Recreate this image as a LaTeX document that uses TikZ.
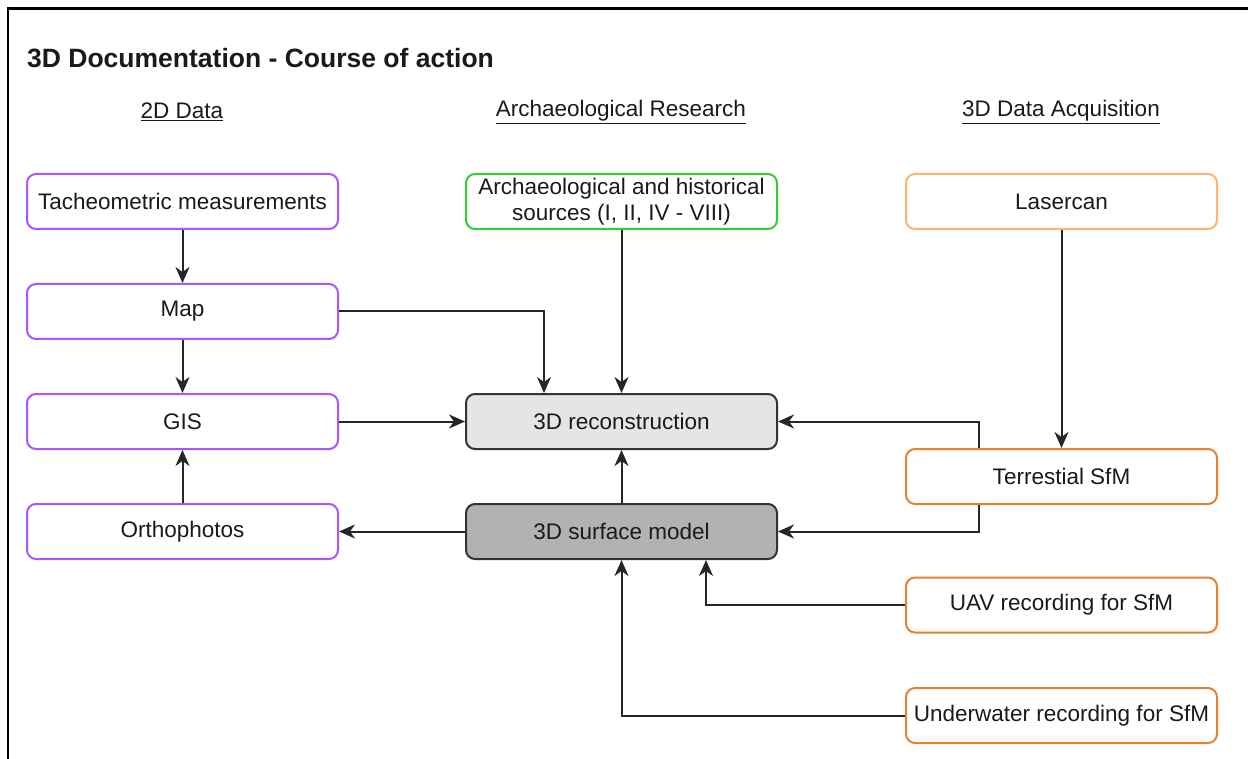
\documentclass[tikz,border=0pt]{standalone}
\usepackage{fontspec}
\setmainfont{Liberation Sans}
\usetikzlibrary{arrows.meta}
\definecolor{purp}{HTML}{AA55FF}
\definecolor{grn}{HTML}{33CC33}
\definecolor{lorange}{HTML}{FFB570}
\definecolor{orng}{HTML}{E5822F}
\definecolor{txt}{HTML}{1A1A1A}
\begin{document}
\begin{tikzpicture}[x=1pt,y=-1pt,
  box/.style={draw,line width=2pt,rounded corners=9pt,minimum width=311pt,minimum height=55pt,inner sep=0pt,align=center,text=txt,font=\fontsize{22.5}{27}\selectfont},
  pbox/.style={box,draw=purp,fill=white},
  gbox/.style={box,draw=grn,fill=white},
  lobox/.style={box,draw=lorange,fill=white},
  obox/.style={box,draw=orng,fill=white},
  cbox/.style={box,draw=black!80},
  hdr/.style={text=txt,font=\fontsize{22.5}{27}\selectfont,inner sep=0pt},
  conn/.style={draw=black!85,line width=2pt,-{Stealth[length=16pt,width=14pt,inset=5pt]}}]
\useasboundingbox (0,0) rectangle (1248,759);
\fill[white] (0,0) rectangle (1248,759);
\draw[line width=2.2pt] (8,759) -- (8,8.5) -- (1248,8.5);

\node[hdr,anchor=west,font=\fontsize{26.5}{30}\selectfont\bfseries] (title) at (27,58) {3D Documentation - Course of action};
\node[hdr] (h1) at (182,112) {\underline{2D Data}};
\node[hdr] (h2) at (621,112) {\underline{Archaeological Research}};
\node[hdr] (h3) at (1061,112) {\underline{3D Data Acquisition}};

\node[pbox] (tach) at (182.5,201.5) {Tacheometric measurements};
\node[pbox] (map) at (182.5,311.5) {Map};
\node[pbox] (gis) at (182.5,421.5) {GIS};
\node[pbox] (ortho) at (182.5,531.5) {Orthophotos};

\node[gbox] (arch) at (621.5,201.5) {Archaeological and historical\\[-1pt]sources (I, II, IV - VIII)};
\node[cbox,fill=black!10] (recon) at (621.5,421.5) {3D reconstruction};
\node[cbox,fill=black!30] (surf) at (621.5,531.5) {3D surface model};

\node[lobox] (laser) at (1061.5,201.5) {Lasercan};
\node[obox] (terr) at (1061.5,476.5) {Terrestial SfM};
\node[obox] (uav) at (1061.5,605) {UAV recording for SfM};
\node[obox] (uw) at (1061.5,715.5) {Underwater recording for SfM};

\draw[conn] (tach) -- (map);
\draw[conn] (map) -- (gis);
\draw[conn] (ortho) -- (gis);
\draw[conn] (map.east) -| ([xshift=-77.5pt]recon.north);
\draw[conn] (arch) -- (recon);
\draw[conn] (gis) -- (recon);
\draw[conn] (surf) -- (recon);
\draw[conn] (surf) -- (ortho);
\draw[conn] (laser) -- (terr);
\draw[conn] ([xshift=-82.5pt]terr.north) |- (recon.east);
\draw[conn] ([xshift=-82.5pt]terr.south) |- (surf.east);
\draw[conn] (uav.west) -| ([xshift=84.5pt]surf.south);
\draw[conn] (uw.west) -| (surf.south);
\end{tikzpicture}
\end{document}
